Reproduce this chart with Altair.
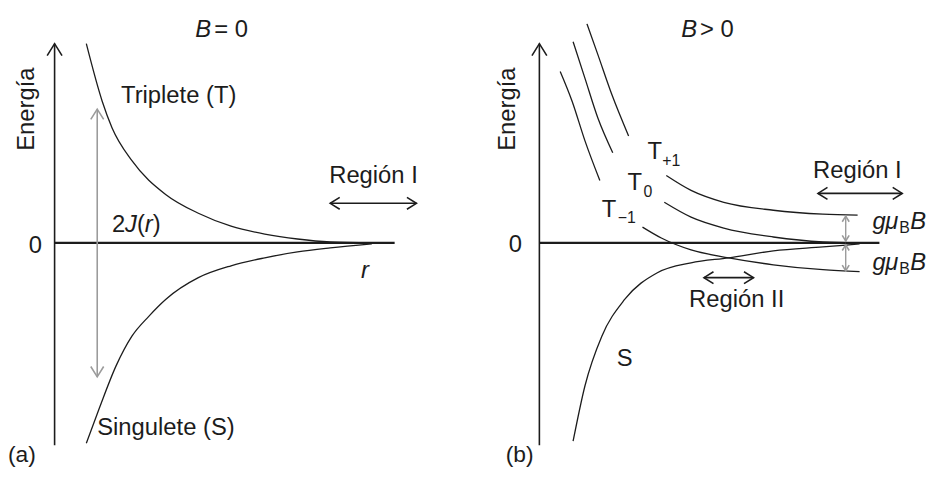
import altair as alt
import pandas as pd

INK = "#1c1c1c"
GRAY = "#9b9b9b"
FONT = "Liberation Sans"
CHEVRON = "M-1,1.6L0,0L1,1.6"

# Units: r = distance (arbitrary units), E = energy (arbitrary units)
# ---------------- panel (a): B = 0 ----------------
a_xdom = [-4.7, 41.3]
ydom = [-22.6, 23.5]

a_trip_r = [3.2, 4.8, 5.8, 7.8, 11.2, 14.5, 17.8, 21.2, 24.5, 27.8, 32.0]
a_trip_E = [20.1, 14.3, 11.6, 8.3, 4.9, 3.0, 1.7, 0.9, 0.4, 0.1, 0.0]
a_sing_r = [3.2, 4.5, 6.2, 7.8, 9.5, 11.2, 14.5, 17.8, 21.2, 24.5, 27.8, 32.0]
a_sing_E = [-20.2, -16.7, -12.4, -9.4, -7.4, -5.7, -3.5, -2.3, -1.5, -0.9, -0.5, -0.1]

# rules: r, E, r2, E2, color, width
a_rule_r = [0.0, 0.0, 4.3, 27.8]
a_rule_E = [-20.4, 0.0, 13.5, 4.0]
a_rule_r2 = [0.0, 34.3, 4.3, 36.5]
a_rule_E2 = [20.1, 0.0, -13.5, 4.0]
a_rule_col = [INK, INK, GRAY, INK]
a_rule_w = [1.6, 2.3, 1.6, 1.6]

# arrow heads: tip r, tip E, angle, size, color
a_head_r = [0.0, 4.3, 4.3, 27.8, 36.5]
a_head_E = [20.1, 13.5, -13.5, 4.0, 4.0]
a_head_ang = [0, 0, 180, 270, 90]
a_head_size = [225, 169, 169, 144, 144]
a_head_col = [INK, GRAY, GRAY, INK, INK]

a_text = ["= 0", "Triplete (T)", "2", "(", ")", "Singulete (S)", "Región I", "0", "(a)"]
a_text_r = [16.1, 6.7, 5.8, 8.3, 9.9, 4.3, 27.7, -2.6, -4.7]
a_text_E = [20.8, 14.1, 1.1, 1.1, 1.1, -19.4, 6.0, -1.0, -22.1]
a_text_size = [24, 24, 24, 24, 24, 24, 24, 24, 23]

a_ital = ["B", "J", "r", "r"]
a_ital_r = [14.2, 7.1, 9.1, 30.9]
a_ital_E = [20.8, 1.1, 1.1, -3.5]
a_ital_size = [24, 24, 24, 24]

a_rot_r = [-2.8]
a_rot_E = [13.5]

# ---------------- panel (b): B > 0 ----------------
b_xdom = [-6.8, 39.2]

b_curves = {
    "T-1 alto": ([2.1, 3.3, 4.6, 6.1], [17.3, 14.3, 10.3, 6.3]),
    "T0 alto": ([3.4, 4.6, 5.9, 7.4], [20.3, 16.6, 12.6, 9.1]),
    "T+1 alto": ([4.8, 5.9, 7.3, 9.0], [22.1, 19.0, 15.0, 10.8]),
    "T+1": ([12.8, 15.3, 18.6, 23.6, 28.6, 32.1], [6.8, 5.3, 4.1, 3.3, 2.9, 2.8]),
    "T0": ([12.6, 15.3, 18.6, 23.6, 28.6, 32.3], [4.1, 2.6, 1.5, 0.6, 0.1, 0.0]),
    "T-1": ([10.4, 12.3, 15.3, 19.1, 23.6, 28.6, 32.3], [1.6, 0.5, -0.7, -1.5, -2.2, -2.7, -2.9]),
    "S": ([3.4, 4.6, 6.3, 8.6, 11.9, 15.3, 19.1, 23.6, 28.6, 32.3],
          [-20.0, -14.4, -9.4, -5.7, -3.0, -2.0, -1.5, -0.8, -0.4, -0.1]),
}

b_rule_r = [0.0, 0.0, 28.1, 16.6, 30.9, 30.9]
b_rule_E = [-20.4, 0.0, 5.0, -3.5, 2.8, -0.1]
b_rule_r2 = [0.0, 34.3, 36.6, 21.6, 30.9, 30.9]
b_rule_E2 = [20.1, 0.0, 5.0, -3.5, 0.1, -2.9]
b_rule_col = [INK, INK, INK, INK, GRAY, GRAY]
b_rule_w = [1.6, 2.3, 1.6, 1.6, 1.4, 1.4]

b_head_r = [0.0, 28.1, 36.6, 16.6, 21.6, 30.9, 30.9, 30.9, 30.9]
b_head_E = [20.1, 5.0, 5.0, -3.5, -3.5, 2.7, 0.2, -0.2, -2.8]
b_head_ang = [0, 270, 90, 270, 90, 0, 180, 0, 180]
b_head_size = [225, 144, 144, 144, 144, 49, 49, 49, 49]
b_head_col = [INK, INK, INK, INK, INK, GRAY, GRAY, GRAY, GRAY]

b_text = ["> 0", "0", "T", "+1", "T", "0", "T", "\u22121", "S", "Región I", "Región II", "(b)",
          "B", "B"]
b_text_r = [16.2, -3.1, 10.9, 12.4, 8.9, 10.5, 6.3, 7.9, 7.8, 27.6, 15.1, -3.4, 36.3, 36.3]
b_text_E = [20.8, -0.9, 8.5, 7.8, 5.3, 4.6, 2.6, 2.0, -12.4, 6.6, -6.5, -22.1, 1.0, -3.1]
b_text_size = [24, 24, 24, 16, 24, 16, 24, 16, 24, 24, 24, 23, 16, 16]

b_ital = ["B", "g", "\u03bc", "B", "g", "\u03bc", "B"]
b_ital_r = [14.3, 33.6, 34.9, 37.4, 33.6, 34.9, 37.4]
b_ital_E = [20.8, 1.4, 1.4, 1.4, -2.7, -2.7, -2.7]
b_ital_size = [24, 24, 24, 24, 24, 24, 24]

b_rot_r = [-3.2]
b_rot_E = [13.5]


def curves_df(series):
    rows = []
    for name, (rs, es) in series.items():
        for i, (r, e) in enumerate(zip(rs, es)):
            rows.append({"curve": name, "r": r, "E": e, "i": i})
    return pd.DataFrame(rows)


def panel(xdom, curves, rules, heads, texts, itals, rot):
    xs = alt.Scale(domain=xdom, nice=False, zero=False)
    ys = alt.Scale(domain=ydom, nice=False, zero=False)
    X = alt.X("r:Q", scale=xs, axis=None)
    Y = alt.Y("E:Q", scale=ys, axis=None)

    line = alt.Chart(curves).mark_line(
        color=INK, strokeWidth=1.3, interpolate="monotone"
    ).encode(x=X, y=Y, detail="curve:N", order="i:Q")

    rule = alt.Chart(rules).mark_rule().encode(
        x=X, x2="r2:Q", y=Y, y2="E2:Q",
        color=alt.Color("color:N", scale=None),
        strokeWidth=alt.StrokeWidth("w:Q", scale=None),
    )

    head = alt.Chart(heads).mark_point(
        shape=CHEVRON, filled=False, opacity=1, strokeWidth=1.6
    ).encode(
        x=X, y=Y,
        angle=alt.Angle("angle:Q", scale=None),
        size=alt.Size("size:Q", scale=None),
        color=alt.Color("color:N", scale=None),
    )

    txt = alt.Chart(texts).mark_text(
        align="left", baseline="alphabetic", font=FONT, color=INK
    ).encode(x=X, y=Y, text="text:N", size=alt.Size("size:Q", scale=None))

    ital = alt.Chart(itals).mark_text(
        align="left", baseline="alphabetic", font=FONT, fontStyle="italic", color=INK
    ).encode(x=X, y=Y, text="text:N", size=alt.Size("size:Q", scale=None))

    rotated = alt.Chart(rot).mark_text(
        angle=270, align="center", baseline="middle", font=FONT, fontSize=24, color=INK
    ).encode(x=X, y=Y, text="text:N")

    return alt.layer(line, rule, head, txt, ital, rotated).properties(width=460, height=461)


pa = panel(
    a_xdom,
    curves_df({"Triplete": (a_trip_r, a_trip_E), "Singulete": (a_sing_r, a_sing_E)}),
    pd.DataFrame({"r": a_rule_r, "E": a_rule_E, "r2": a_rule_r2, "E2": a_rule_E2,
                  "color": a_rule_col, "w": a_rule_w}),
    pd.DataFrame({"r": a_head_r, "E": a_head_E, "angle": a_head_ang,
                  "size": a_head_size, "color": a_head_col}),
    pd.DataFrame({"text": a_text, "r": a_text_r, "E": a_text_E, "size": a_text_size}),
    pd.DataFrame({"text": a_ital, "r": a_ital_r, "E": a_ital_E, "size": a_ital_size}),
    pd.DataFrame({"text": ["Energía"], "r": a_rot_r, "E": a_rot_E}),
)

pb = panel(
    b_xdom,
    curves_df(b_curves),
    pd.DataFrame({"r": b_rule_r, "E": b_rule_E, "r2": b_rule_r2, "E2": b_rule_E2,
                  "color": b_rule_col, "w": b_rule_w}),
    pd.DataFrame({"r": b_head_r, "E": b_head_E, "angle": b_head_ang,
                  "size": b_head_size, "color": b_head_col}),
    pd.DataFrame({"text": b_text, "r": b_text_r, "E": b_text_E, "size": b_text_size}),
    pd.DataFrame({"text": b_ital, "r": b_ital_r, "E": b_ital_E, "size": b_ital_size}),
    pd.DataFrame({"text": ["Energía"], "r": b_rot_r, "E": b_rot_E}),
)

chart = alt.hconcat(pa, pb, spacing=8).properties(padding=0).configure_view(stroke=None)

chart.save("out.html", embed_options={"renderer": "svg", "actions": False})
